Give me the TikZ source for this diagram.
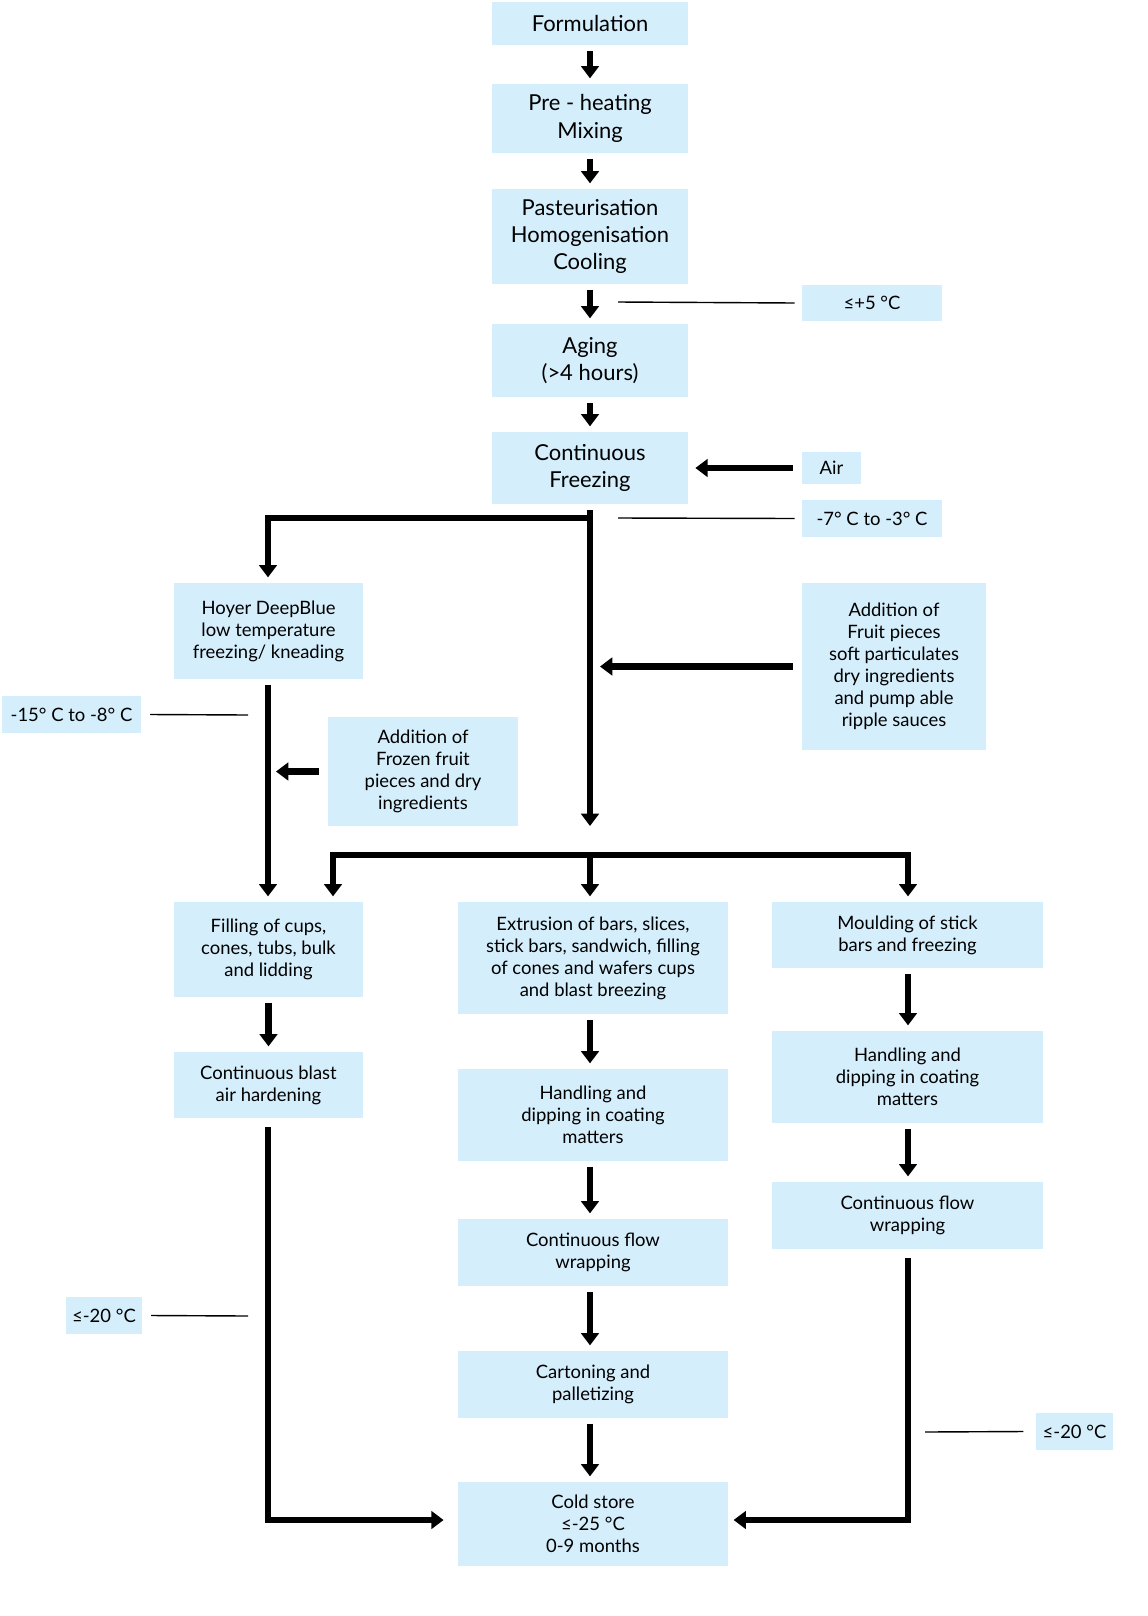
\documentclass[tikz,border=0pt]{standalone}
\usepackage{fontspec}
\setmainfont{Lato}
\usetikzlibrary{arrows.meta}
\definecolor{boxblue}{HTML}{D5EEFB}
\tikzset{
  box/.style={fill=boxblue, align=center, inner sep=0pt, font=\fontsize{10.5}{12.5}\selectfont},
  bigbox/.style={box, font=\fontsize{12.5}{15.5}\selectfont},
  flow/.style={line width=3.6pt, -{Triangle[length=7pt,width=10pt]}},
  stage/.style={flow, shorten <=3pt, shorten >=3pt},
  tick/.style={line width=0.8pt},
}
\begin{document}
\begin{tikzpicture}[x=0.02cm,y=-0.02cm]
  \useasboundingbox (0,0) rectangle (1148,1616);
  % main column
  \node[bigbox, minimum width=196*0.02cm, minimum height=43*0.02cm] (form) at (590,23.5) {Formulation};
  \node[bigbox, minimum width=196*0.02cm, minimum height=69*0.02cm] (preh) at (590,118.5) {Pre - heating\\Mixing};
  \node[bigbox, minimum width=196*0.02cm, minimum height=95*0.02cm] (past) at (590,236.5) {Pasteurisation\\Homogenisation\\Cooling};
  \node[bigbox, minimum width=196*0.02cm, minimum height=73*0.02cm] (aging) at (590,360.5) {Aging\\(>4 hours)};
  \node[bigbox, minimum width=196*0.02cm, minimum height=72*0.02cm] (freez) at (590,468) {Continuous\\Freezing};
  % side notes
  \node[box, minimum width=140*0.02cm, minimum height=36*0.02cm] (t5) at (872,303) {≤+5 °C};
  \node[box, minimum width=59*0.02cm, minimum height=32*0.02cm] (air) at (831.5,468) {Air};
  \node[box, minimum width=140*0.02cm, minimum height=37*0.02cm] (t7) at (872,518.5) {-7° C to -3° C};
  \node[box, minimum width=189*0.02cm, minimum height=96*0.02cm] (hoyer) at (268.5,631) {Hoyer DeepBlue\\low temperature\\freezing/ kneading};
  \node[box, minimum width=184*0.02cm, minimum height=167*0.02cm] (fruit) at (894,666.5) {Addition of\\Fruit pieces\\soft particulates\\dry ingredients\\and pump able\\ripple sauces};
  \node[box, minimum width=139*0.02cm, minimum height=37*0.02cm] (t15) at (71.5,714.5) {-15° C to -8° C};
  \node[box, minimum width=190*0.02cm, minimum height=109*0.02cm] (frozen) at (423,771.5) {Addition of\\Frozen fruit\\pieces and dry\\ingredients};
  % product lines
  \node[box, minimum width=189*0.02cm, minimum height=95*0.02cm] (fill) at (268.5,949.5) {Filling of cups,\\cones, tubs, bulk\\and lidding};
  \node[box, minimum width=270*0.02cm, minimum height=112*0.02cm] (extr) at (593,958) {Extrusion of bars, slices,\\stick bars, sandwich, filling\\of cones and wafers cups\\and blast breezing};
  \node[box, minimum width=271*0.02cm, minimum height=66*0.02cm] (mould) at (907.5,935) {Moulding of stick\\bars and freezing};
  \node[box, minimum width=189*0.02cm, minimum height=66*0.02cm] (blast) at (268.5,1085) {Continuous blast\\air hardening};
  \node[box, minimum width=270*0.02cm, minimum height=92*0.02cm] (handm) at (593,1115) {Handling and\\dipping in coating\\matters};
  \node[box, minimum width=270*0.02cm, minimum height=67*0.02cm] (flowm) at (593,1252.5) {Continuous flow\\wrapping};
  \node[box, minimum width=270*0.02cm, minimum height=67*0.02cm] (carton) at (593,1384.5) {Cartoning and\\palletizing};
  \node[box, minimum width=270*0.02cm, minimum height=84*0.02cm] (cold) at (593,1524) {Cold store\\≤-25 °C\\0-9 months};
  \node[box, minimum width=271*0.02cm, minimum height=92*0.02cm] (handr) at (907.5,1077) {Handling and\\dipping in coating\\matters};
  \node[box, minimum width=271*0.02cm, minimum height=67*0.02cm] (flowr) at (907.5,1215.5) {Continuous flow\\wrapping};
  \node[box, minimum width=76*0.02cm, minimum height=37*0.02cm] (t20l) at (104,1315.5) {≤-20 °C};
  \node[box, minimum width=77*0.02cm, minimum height=37*0.02cm] (t20r) at (1074.5,1431.5) {≤-20 °C};

  % helper points
  \coordinate (split) at (590,518);
  \coordinate (hoyl) at (268,518);
  \coordinate (join) at (590,826);
  \coordinate (barl) at (333,855);
  \coordinate (barm) at (590,855);
  \coordinate (barr) at (908,855);
  \coordinate (lcorner) at (268,1520);
  \coordinate (rcorner) at (908,1520);

  % short arrows
  \draw[stage] (fill.south -| blast) -- (blast);
  \draw[stage] (form) -- (preh);
  \draw[stage] (preh) -- (past);
  \draw[stage] (past) -- (aging);
  \draw[stage] (aging) -- (freez);
  \draw[stage] (extr.south -| barm) -- (handm.north -| barm);
  \draw[stage] (handm.south -| barm) -- (flowm.north -| barm);
  \draw[stage] (flowm.south -| barm) -- (carton.north -| barm);
  \draw[stage] (carton.south -| barm) -- (cold.north -| barm);
  \draw[stage] (mould.south -| barr) -- (handr.north -| barr);
  \draw[stage] (handr.south -| barr) -- (flowr.north -| barr);

  % side inputs
  \draw[flow, shorten <=5pt, shorten >=4pt] (air) -- (freez);
  \draw[flow, shorten <=5pt] (fruit.west) -- (600,666.5);
  \draw[flow, shorten <=5pt] (frozen.west) -- (276,771.5);

  % branches
  \draw[flow] (freez.south) ++(0,6) -- (join);
  \draw[flow, line join=miter] (split) -- (hoyl) -- ([yshift=3pt]hoyer.north -| hoyl);
  \draw[flow] ([yshift=-3pt]hoyer.south -| hoyl) -- ([yshift=3pt]fill.north -| hoyl);
  \draw[flow, line join=miter] (barm) -- (barl) -- ([yshift=3pt]fill.north -| barl);
  \draw[flow, line join=miter] (barm) -- (barr) -- ([yshift=3pt]mould.north -| barr);
  \draw[flow] (barm) -- ([yshift=3pt]extr.north -| barm);
  \draw[flow, line join=miter] ([yshift=-5pt]blast.south -| lcorner) -- (lcorner) -- ([xshift=-8pt]cold.west |- lcorner);
  \draw[flow, line join=miter] ([yshift=-5pt]flowr.south -| rcorner) -- (rcorner) -- ([xshift=3pt]cold.east |- rcorner);

  % temperature ticks
  \draw[tick] (618,302) -- ([xshift=-4pt]t5.west);
  \draw[tick] (618,518) -- ([xshift=-4pt]t7.west);
  \draw[tick] ([xshift=5pt]t15.east) -- (248,715);
  \draw[tick] ([xshift=5pt]t20l.east) -- (248,1316);
  \draw[tick] (925,1432) -- ([xshift=-7pt]t20r.west);
\end{tikzpicture}
\end{document}
